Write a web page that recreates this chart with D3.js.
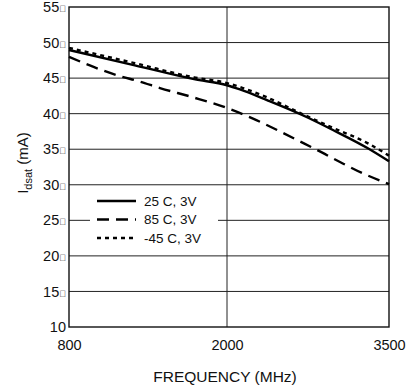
<!DOCTYPE html>
<html>
<head>
<meta charset="utf-8">
<script src="https://cdn.jsdelivr.net/npm/d3@7/dist/d3.min.js"></script>
<style>
  html, body { margin: 0; padding: 0; background: #fff; }
  svg { display: block; }
  text { font-family: "Liberation Sans", Arial, sans-serif; fill: #111; }
</style>
</head>
<body>
<svg id="chart" width="416" height="391"></svg>
<script>
// Frequency grid (MHz) and saturation current readings (mA)
const xTicks = [800, 2000, 3500];
const yTicks = [10, 15, 20, 25, 30, 35, 40, 45, 50, 55];
const yTickSuffix = "\uE000";

const freq25 = [800, 1300, 1750, 2000, 2120, 2370, 2741, 2981, 3296, 3500];
const idsat25 = [48.95, 46.8, 44.85, 44.0, 43.4, 41.9, 39.5, 37.7, 35.2, 33.3];

const freq85 = [800, 982, 1165, 1339, 1491, 1742, 2000, 2241, 2491, 2676, 2833, 3046, 3259, 3500];
const idsat85 = [48.0, 46.6, 45.4, 44.5, 43.6, 42.3, 40.8, 39.3, 37.5, 36.1, 34.9, 33.2, 31.6, 30.1];

const freqM45 = [800, 1300, 1750, 2000, 2148, 2370, 2676, 2981, 3296, 3500];
const idsatM45 = [49.25, 47.1, 45.1, 44.3, 43.6, 42.3, 40.1, 38.0, 35.9, 34.1];

const seriesNames = ["25 C, 3V", "85 C, 3V", "-45 C, 3V"];

const svg = d3.select("#chart");
const plot = { left: 69, right: 389, top: 7, bottom: 327 };

// The frequency axis is piecewise: 800–2000 and 2000–3500 get nearly equal widths
const x = d3.scaleLinear().domain([800, 2000, 3500]).range([plot.left, 227, plot.right]);
const y = d3.scaleLinear().domain([10, 55]).range([plot.bottom, plot.top]);

// Horizontal grid
svg.append("g")
  .selectAll("line")
  .data(yTicks.slice(1, -1))
  .join("line")
  .attr("x1", plot.left).attr("x2", plot.right)
  .attr("y1", d => y(d)).attr("y2", d => y(d))
  .attr("stroke", "#222").attr("stroke-width", 1);

// Vertical grid at the middle frequency tick
svg.append("g")
  .selectAll("line")
  .data(xTicks.slice(1, -1))
  .join("line")
  .attr("x1", d => x(d)).attr("x2", d => x(d))
  .attr("y1", plot.top).attr("y2", plot.bottom)
  .attr("stroke", "#222").attr("stroke-width", 1);

// Legend panel sits on top of the grid
const legend = { x: 90, y: 191, w: 128, h: 58 };
svg.append("rect")
  .attr("x", legend.x).attr("y", legend.y)
  .attr("width", legend.w).attr("height", legend.h)
  .attr("fill", "#fff");

// Plot frame
svg.append("rect")
  .attr("x", plot.left).attr("y", plot.top)
  .attr("width", plot.right - plot.left).attr("height", plot.bottom - plot.top)
  .attr("fill", "none").attr("stroke", "#111").attr("stroke-width", 1.4);

// Axes (labels only; the frame draws the axis lines)
const xAxis = d3.axisBottom(x).tickValues(xTicks).tickSize(0).tickPadding(13)
  .tickFormat(d3.format("d"));
svg.append("g")
  .attr("transform", `translate(0,${plot.bottom})`)
  .call(xAxis)
  .call(g => g.select(".domain").remove())
  .call(g => g.selectAll("text").attr("font-size", 14.5).attr("fill", "#111")
    .style("font-family", "'Liberation Sans', Arial, sans-serif"));

const yAxis = d3.axisLeft(y).tickValues(yTicks).tickSize(0).tickPadding(3)
  .tickFormat(() => "");
svg.append("g")
  .attr("transform", `translate(${plot.left},0)`)
  .call(yAxis)
  .call(g => g.select(".domain").remove())
  .call(g => g.selectAll("text")
    .attr("font-size", 14.5).attr("fill", "#111")
    .style("font-family", "'Liberation Sans', Arial, sans-serif")
    .each(function (d) {
      const t = d3.select(this);
      t.append("tspan").text(d3.format("d")(d));
      if (d !== 10) t.append("tspan").attr("font-size", 9).text(yTickSuffix);
    }));

// Curves
const line = d3.line().x(d => x(d[0])).y(d => y(d[1])).curve(d3.curveMonotoneX);
const series = [
  { name: seriesNames[0], f: freq25, v: idsat25, dash: null, width: 2.4 },
  { name: seriesNames[1], f: freq85, v: idsat85, dash: "12,7", width: 2.4 },
  { name: seriesNames[2], f: freqM45, v: idsatM45, dash: "4,4", width: 2.4 }
];

svg.append("g")
  .selectAll("path")
  .data(series)
  .join("path")
  .attr("d", s => line(s.f.map((f, i) => [f, s.v[i]])))
  .attr("fill", "none")
  .attr("stroke", "#000")
  .attr("stroke-width", s => s.width)
  .attr("stroke-dasharray", s => s.dash);

// Legend entries
const entry = svg.append("g")
  .selectAll("g")
  .data(series)
  .join("g")
  .attr("transform", (s, i) => `translate(97,${201 + i * 18.5})`);
entry.append("line")
  .attr("x1", 0).attr("x2", 39)
  .attr("stroke", "#000").attr("stroke-width", 2.4)
  .attr("stroke-dasharray", s => s.dash);
entry.append("text")
  .attr("x", 47).attr("dy", "0.36em")
  .attr("font-size", 13.5)
  .text(s => s.name);

// Axis titles
svg.append("text")
  .attr("x", 225).attr("y", 382)
  .attr("text-anchor", "middle")
  .attr("font-size", 15.5)
  .text("FREQUENCY (MHz)");

const yTitle = svg.append("text")
  .attr("transform", "translate(28,163) rotate(-90)")
  .attr("text-anchor", "middle")
  .attr("font-size", 15);
yTitle.append("tspan").text("I");
yTitle.append("tspan").attr("font-size", 11).attr("dy", 4).text("dsat");
yTitle.append("tspan").attr("dy", -4).text(" (mA)");
</script>
</body>
</html>
